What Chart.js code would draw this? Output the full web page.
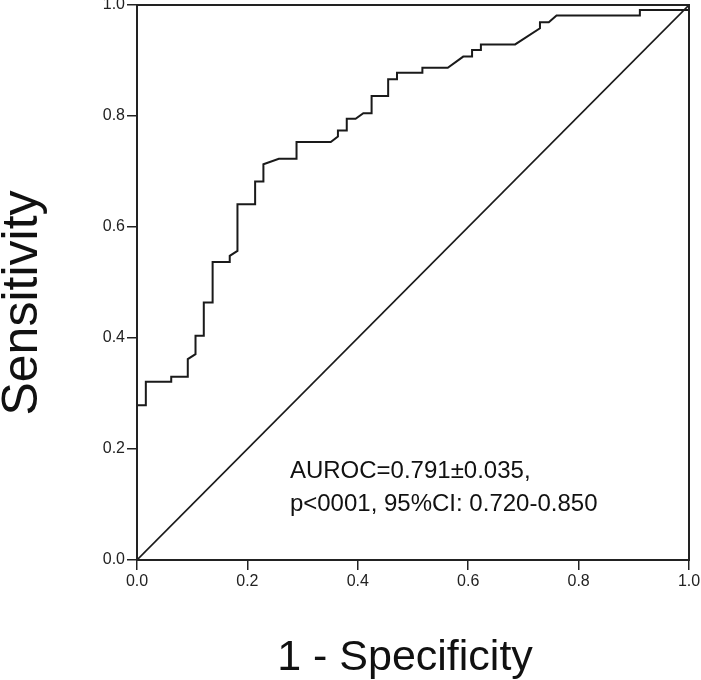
<!DOCTYPE html>
<html>
<head>
<meta charset="utf-8">
<script src="https://cdn.jsdelivr.net/npm/chart.js@4/dist/chart.umd.min.js"></script>
<style>
html, body { margin: 0; padding: 0; background: #fff; }
#wrap { width: 701px; height: 680px; }
</style>
</head>
<body>
<div id="wrap"><canvas id="roc"></canvas></div>
<script>
// ROC curve (1 - specificity, sensitivity)
var fpr = [0, 0, 0.016, 0.016, 0.062, 0.062, 0.092, 0.092, 0.106, 0.106, 0.121, 0.121, 0.137, 0.137,
    0.168, 0.168, 0.182, 0.182, 0.214, 0.214, 0.229, 0.229, 0.257, 0.289, 0.289, 0.351, 0.364, 0.364,
    0.380, 0.380, 0.396, 0.410, 0.425, 0.425, 0.455, 0.455, 0.471, 0.471, 0.517, 0.517, 0.563, 0.591,
    0.607, 0.607, 0.623, 0.623, 0.685, 0.730, 0.730, 0.746, 0.760, 0.911, 0.911, 1.0, 1.0];
var sens = [0, 0.279, 0.279, 0.321, 0.321, 0.330, 0.330, 0.362, 0.371, 0.404, 0.404, 0.464, 0.464, 0.537,
    0.537, 0.548, 0.557, 0.641, 0.641, 0.682, 0.682, 0.713, 0.723, 0.723, 0.753, 0.753, 0.763, 0.774,
    0.774, 0.795, 0.795, 0.805, 0.805, 0.836, 0.836, 0.866, 0.866, 0.878, 0.878, 0.887, 0.887, 0.907,
    0.907, 0.919, 0.919, 0.929, 0.929, 0.958, 0.969, 0.969, 0.981, 0.981, 0.991, 0.991, 1.0];

// reference diagonal
var diagX = [0, 1];
var diagY = [0, 1];

var tickVals = [0, 0.2, 0.4, 0.6, 0.8, 1.0];
var noteLines = ['AUROC=0.791\u00b10.035,', 'p<0001, 95%CI: 0.720-0.850'];
var xTitle = '1 - Specificity';
var yTitle = 'Sensitivity';

var FONT = '"Liberation Sans", Arial, sans-serif';

function toPoints(xs, ys) {
    var pts = [];
    for (var i = 0; i < xs.length; i++) {
        pts.push({ x: xs[i], y: ys[i] });
    }
    return pts;
}

// frame around the plot, the AUROC note and the two axis titles
var boxAndNote = {
    id: 'boxAndNote',
    afterDraw: function (chart) {
        var ctx = chart.ctx;
        var a = chart.chartArea;
        var xs = chart.scales.x, ys = chart.scales.y;
        ctx.save();
        ctx.strokeStyle = '#222';
        ctx.lineWidth = 2;
        ctx.strokeRect(a.left, a.top, a.right - a.left, a.bottom - a.top);

        ctx.fillStyle = '#111';
        ctx.font = '24px ' + FONT;
        ctx.textAlign = 'left';
        ctx.textBaseline = 'alphabetic';
        ctx.fillText(noteLines[0], xs.getPixelForValue(0.277), ys.getPixelForValue(0.148));
        ctx.fillText(noteLines[1], xs.getPixelForValue(0.277), ys.getPixelForValue(0.088));

        ctx.textAlign = 'center';
        ctx.font = '43px ' + FONT;
        ctx.fillText(xTitle, 405, 670);

        ctx.translate(37, 303);
        ctx.rotate(-Math.PI / 2);
        ctx.font = '50px ' + FONT;
        ctx.fillText(yTitle, 0, 0);
        ctx.restore();
    }
};

var ctx = document.getElementById('roc').getContext('2d');
var rocChart = new Chart(ctx, {
    type: 'scatter',
    data: {
        datasets: [
            {
                label: 'ROC',
                data: toPoints(fpr, sens),
                showLine: true,
                borderColor: '#1a1a1a',
                borderWidth: 2,
                pointRadius: 0,
                tension: 0
            },
            {
                label: 'Reference',
                data: toPoints(diagX, diagY),
                showLine: true,
                borderColor: '#1a1a1a',
                borderWidth: 1.6,
                pointRadius: 0,
                tension: 0
            }
        ]
    },
    options: {
        responsive: true,
        maintainAspectRatio: false,
        animation: false,
        layout: { padding: { top: 5, right: 12, left: 0, bottom: 0 } },
        plugins: {
            legend: { display: false },
            tooltip: { enabled: false }
        },
        scales: {
            x: {
                type: 'linear',
                min: 0,
                max: 1,
                afterBuildTicks: function (s) {
                    s.ticks = tickVals.map(function (v) { return { value: v }; });
                },
                afterFit: function (s) {
                    s.height = 120;
                    s.paddingLeft = 0;
                    s.paddingRight = 0;
                },
                ticks: {
                    color: '#222',
                    padding: 2,
                    maxRotation: 0,
                    font: { family: FONT, size: 16 },
                    callback: function (v) { return Number(v).toFixed(1); }
                },
                grid: { display: true, drawOnChartArea: false, drawTicks: true, tickLength: 10, color: '#222', lineWidth: 1.5 },
                border: { display: true, color: '#222', width: 2 }
            },
            y: {
                type: 'linear',
                min: 0,
                max: 1,
                afterBuildTicks: function (s) {
                    s.ticks = tickVals.map(function (v) { return { value: v }; });
                },
                afterFit: function (s) {
                    s.width = 137;
                    s.paddingTop = 0;
                    s.paddingBottom = 0;
                },
                ticks: {
                    color: '#222',
                    padding: 2,
                    font: { family: FONT, size: 16 },
                    callback: function (v) { return Number(v).toFixed(1); }
                },
                grid: { display: true, drawOnChartArea: false, drawTicks: true, tickLength: 10, color: '#222', lineWidth: 1.5 },
                border: { display: true, color: '#222', width: 2 }
            }
        }
    },
    plugins: [boxAndNote]
});
</script>
</body>
</html>
